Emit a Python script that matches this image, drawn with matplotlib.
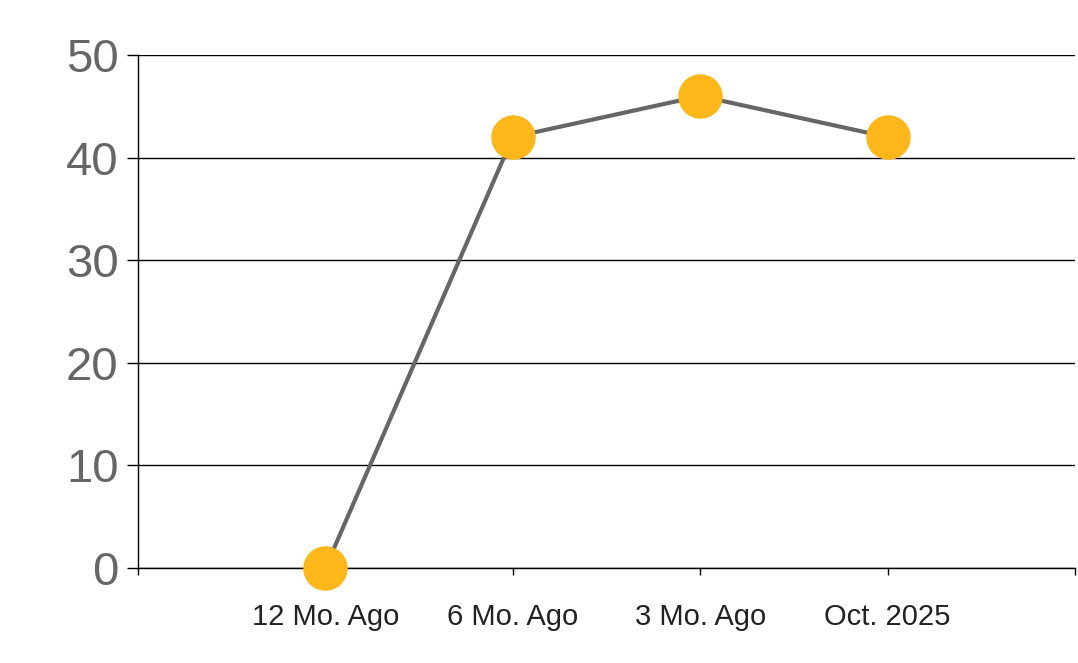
import matplotlib.pyplot as plt

categories = ['12 Mo. Ago', '6 Mo. Ago', '3 Mo. Ago', 'Oct. 2025']
values = [0, 42, 46, 42]
y_ticks = [0, 10, 20, 30, 40, 50]

plt.rcParams['font.family'] = ['Liberation Sans', 'DejaVu Sans']

fig = plt.figure(figsize=(10.78, 6.63), dpi=100)
ax = fig.add_axes([138 / 1078, 95 / 663, 937 / 1078, 513 / 663])

x = list(range(1, len(categories) + 1))
ax.plot(x, values, color='#666666', linewidth=3, zorder=3, clip_on=False,
        marker='o', markersize=31, markerfacecolor='#FDB71A',
        markeredgecolor='#FDB71A')

ax.set_xlim(0, len(categories) + 1)
ax.set_ylim(0, 50)
ax.set_yticks(y_ticks)
ax.yaxis.grid(True, color='black', linewidth=1)
ax.set_axisbelow(True)

# x ticks on every boundary, labels only on the categories
ax.set_xticks(range(0, len(categories) + 2))
ax.set_xticklabels([''] + categories + [''])

for side in ['top', 'right']:
    ax.spines[side].set_visible(False)
for side in ['left', 'bottom']:
    ax.spines[side].set_color('black')
    ax.spines[side].set_linewidth(1)

ax.tick_params(axis='y', length=8, width=1, color='black', labelsize=34,
               labelcolor='#666666', pad=6)
ax.tick_params(axis='x', length=5, width=1, color='black', labelsize=21,
               labelcolor='#222222', pad=20)

fig.savefig('out.png', dpi=100)
